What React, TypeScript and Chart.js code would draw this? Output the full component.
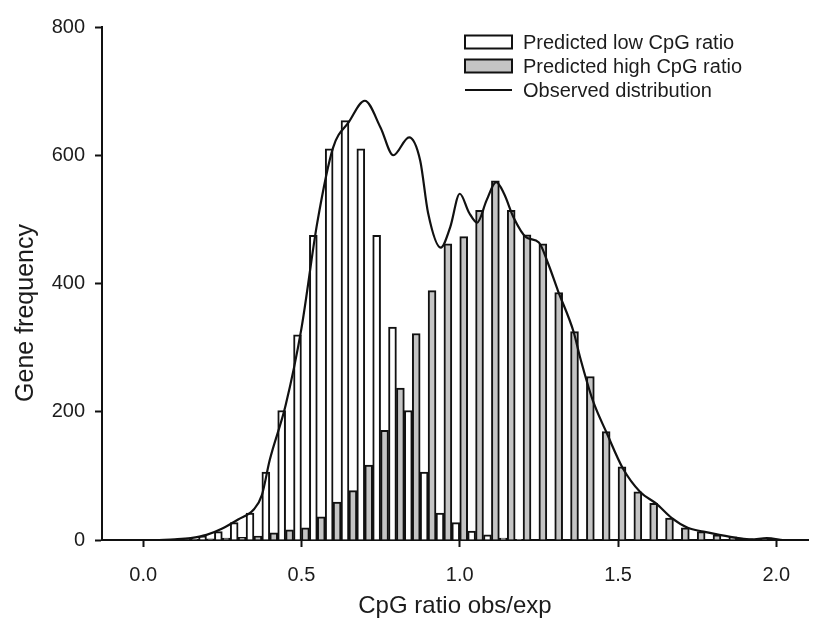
import React, { useEffect, useRef } from "react";
import { Chart, registerables } from "chart.js";

Chart.register(...registerables);

// ---- data ----
const binCenters = [
  0.10, 0.15, 0.20, 0.25, 0.30, 0.35, 0.40, 0.45, 0.50, 0.55,
  0.60, 0.65, 0.70, 0.75, 0.80, 0.85, 0.90, 0.95, 1.00, 1.05,
  1.10, 1.15, 1.20, 1.25, 1.30, 1.35, 1.40, 1.45, 1.50, 1.55,
  1.60, 1.65, 1.70, 1.75, 1.80, 1.85, 1.90, 1.95, 2.00,
];
const lowCpG = [
  0, 2, 6, 13, 27, 42, 106, 202, 320, 475,
  610, 654, 610, 475, 332, 202, 106, 42, 27, 14,
  8, 3, 1, 0, 0, 0, 0, 0, 0, 0,
  0, 0, 0, 0, 0, 0, 0, 0, 0,
];
const highCpG = [
  0, 1, 2, 3, 4, 6, 11, 16, 19, 36,
  59, 77, 117, 171, 237, 322, 389, 462, 473, 514,
  560, 514, 476, 462, 386, 325, 255, 169, 114, 75,
  57, 34, 19, 13, 8, 5, 2, 1, 0,
];
const curveX = [
  0.05, 0.10, 0.15, 0.20, 0.25, 0.30, 0.35, 0.375, 0.40, 0.45,
  0.50, 0.55, 0.60, 0.65, 0.70, 0.75, 0.79, 0.84, 0.875, 0.90,
  0.94, 0.97, 1.00, 1.03, 1.055, 1.085, 1.115, 1.14, 1.17, 1.21,
  1.25, 1.28, 1.31, 1.36, 1.38, 1.42, 1.465, 1.515, 1.57, 1.62,
  1.67, 1.72, 1.77, 1.82, 1.88, 1.92, 1.97, 2.02,
];
const curveY = [
  0, 1, 3, 8, 18, 32, 48, 70, 125, 210,
  330, 495, 612, 652, 685, 643, 600, 628, 592, 510,
  456, 488, 540, 510, 495, 530, 558, 540, 503, 472,
  464, 430, 389, 324, 285, 218, 166, 112, 75, 57,
  34, 19, 13, 8, 3, 1, 3, 0,
];
const xTicks = [0.0, 0.5, 1.0, 1.5, 2.0];
const yTicks = [0, 200, 400, 600, 800];
const seriesLabels = [
  "Predicted low CpG ratio",
  "Predicted high CpG ratio",
  "Observed distribution",
];
const xTitle = "CpG ratio obs/exp";
const yTitle = "Gene frequency";

const FONT = "'Liberation Sans', Arial, Helvetica, sans-serif";
const TEXT = "#1c1c1c";

const insideLegend = {
  id: "insideLegend",
  afterDatasetsDraw(chart: any) {
    const ctx = chart.ctx;
    const boxX = 465;
    const boxW = 47;
    const boxH = 13;
    const textX = 523;
    const rowY = [42, 66, 90];
    ctx.save();
    ctx.font = `20px ${FONT}`;
    ctx.textBaseline = "middle";
    ctx.textAlign = "left";
    chart.data.datasets.forEach((ds: any, i: number) => {
      const y = rowY[i];
      if (ds.type === "line") {
        ctx.strokeStyle = ds.borderColor;
        ctx.lineWidth = 2;
        ctx.beginPath();
        ctx.moveTo(boxX, y);
        ctx.lineTo(boxX + boxW, y);
        ctx.stroke();
      } else {
        ctx.fillStyle = ds.backgroundColor;
        ctx.fillRect(boxX, y - boxH / 2, boxW, boxH);
        ctx.strokeStyle = ds.borderColor;
        ctx.lineWidth = 2;
        ctx.strokeRect(boxX, y - boxH / 2, boxW, boxH);
      }
      ctx.fillStyle = TEXT;
      ctx.fillText(ds.label, textX, y + 1);
    });
    ctx.restore();
  },
};

// y-axis title, drawn slightly below the axis centre as in the reference
const yAxisTitle = {
  id: "yAxisTitle",
  afterDraw(chart: any) {
    const ctx = chart.ctx;
    ctx.save();
    ctx.translate(26, 313);
    ctx.rotate(-Math.PI / 2);
    ctx.font = `25px ${FONT}`;
    ctx.fillStyle = TEXT;
    ctx.textAlign = "center";
    ctx.textBaseline = "middle";
    ctx.fillText(yTitle, 0, 0);
    ctx.restore();
  },
};

export default function App() {
  const ref = useRef<HTMLCanvasElement | null>(null);

  useEffect(() => {
    if (!ref.current) return;
    const chart = new Chart(ref.current, {
      type: "bar",
      data: {
        datasets: [
          {
            type: "bar",
            label: seriesLabels[0],
            data: binCenters.map((x, i) => ({ x, y: lowCpG[i] })),
            backgroundColor: "#ffffff",
            borderColor: "#111111",
            borderWidth: 2,
            barPercentage: 1,
            categoryPercentage: 1,
            order: 2,
          },
          {
            type: "bar",
            label: seriesLabels[1],
            data: binCenters.map((x, i) => ({ x, y: highCpG[i] })),
            backgroundColor: "#c4c4c4",
            borderColor: "#111111",
            borderWidth: 2,
            barPercentage: 1,
            categoryPercentage: 1,
            order: 2,
          },
          {
            type: "line",
            label: seriesLabels[2],
            data: curveX.map((x, i) => ({ x, y: curveY[i] })),
            borderColor: "#111111",
            borderWidth: 2.2,
            pointRadius: 0,
            fill: false,
            cubicInterpolationMode: "monotone",
            order: 1,
          },
        ],
      } as any,
      options: {
        animation: false,
        responsive: true,
        maintainAspectRatio: false,
        layout: { padding: { top: 27, right: 5, left: 0, bottom: 0 } },
        plugins: {
          legend: { display: false },
          tooltip: { enabled: false },
        },
        scales: {
          x: {
            type: "linear",
            min: -0.13,
            max: 2.1,
            offset: false,
            afterBuildTicks: (s: any) => {
              s.ticks = xTicks.map((v) => ({ value: v }));
            },
            afterFit: (s: any) => {
              s.height = 84;
            },
            ticks: {
              font: { family: FONT, size: 20 },
              color: TEXT,
              padding: 16,
              maxRotation: 0,
              callback: (v: any) => Number(v).toFixed(1),
            },
            grid: {
              display: true,
              offset: false,
              drawOnChartArea: false,
              drawTicks: true,
              tickLength: 7,
              tickWidth: 2,
              tickColor: "#111111",
            },
            border: { display: true, color: "#111111", width: 2 },
            title: {
              display: true,
              text: xTitle,
              font: { family: FONT, size: 24 },
              color: TEXT,
              padding: { top: 0, bottom: 3 },
            },
          },
          y: {
            type: "linear",
            min: 0,
            max: 800,
            afterBuildTicks: (s: any) => {
              s.ticks = yTicks.map((v) => ({ value: v }));
            },
            afterFit: (s: any) => {
              s.width = 102;
            },
            ticks: {
              font: { family: FONT, size: 20 },
              color: TEXT,
              padding: 10,
            },
            grid: {
              display: true,
              drawOnChartArea: false,
              drawTicks: true,
              tickLength: 7,
              tickWidth: 2,
              tickColor: "#111111",
            },
            border: { display: true, color: "#111111", width: 2 },
            title: { display: false, text: yTitle },
          },
        },
      } as any,
      plugins: [insideLegend, yAxisTitle],
    });
    return () => chart.destroy();
  }, []);

  return (
    <div
      style={{
        position: "fixed",
        left: 0,
        top: 0,
        width: 813,
        height: 624,
        background: "#ffffff",
      }}
    >
      <canvas ref={ref} />
    </div>
  );
}
